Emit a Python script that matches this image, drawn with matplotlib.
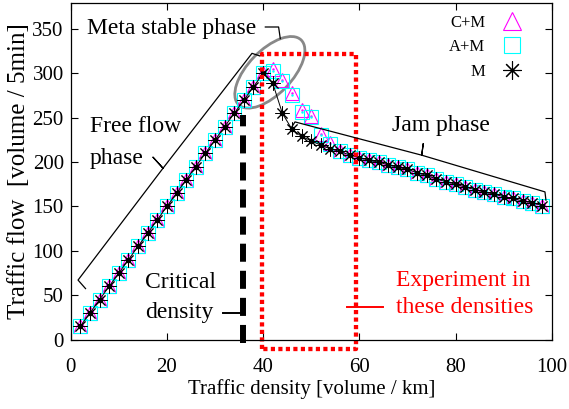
import matplotlib
matplotlib.use('Agg')
import matplotlib.pyplot as plt
from matplotlib.lines import Line2D
from matplotlib.patches import Ellipse
import matplotlib.transforms as mtransforms

plt.rcParams['font.family'] = ['Liberation Serif', 'DejaVu Serif']
plt.rcParams['lines.scale_dashes'] = False

# data
density = [2, 4, 6, 8, 10, 12, 14, 16, 18, 20, 22, 24, 26, 28, 30, 32, 34, 36, 38, 40,
           42, 44, 46, 48, 50, 52, 54, 56, 58, 60, 62, 64, 66, 68, 70, 72, 74, 76, 78, 80,
           82, 84, 86, 88, 90, 92, 94, 96, 98]
flow_m = [15, 30, 45, 60, 75, 90, 105, 120, 135, 150, 165, 180, 195, 210, 225, 240, 255, 270, 285, 300,
          289, 255, 237, 229, 224, 219, 215, 212, 208, 205, 202, 200, 197, 194, 192, 188, 185, 181, 178, 175,
          172, 169, 166, 164, 161, 159, 156, 154, 151]
flow_cm = [15, 30, 45, 60, 75, 90, 105, 120, 135, 150, 165, 180, 195, 210, 225, 240, 255, 270, 285, 300,
           305, 293, 278, 259, 252, 232, 221, 213, 208, 205, 202, 200, 197, 194, 192, 188, 185, 181, 178, 175,
           172, 169, 166, 164, 161, 159, 156, 154, 151]
flow_am = [15, 30, 45, 60, 75, 90, 105, 120, 135, 150, 165, 180, 195, 210, 225, 240, 255, 270, 285, 300,
           303, 291, 276, 257, 251, 230, 220, 212, 208, 205, 202, 200, 197, 194, 192, 188, 185, 181, 178, 175,
           172, 169, 166, 164, 161, 159, 156, 154, 151]

critical_density = 35.8
exp_lo, exp_hi = 39.8, 59.3

fig = plt.figure(figsize=(5.69, 4.09), dpi=100)
ax = fig.add_axes([0.1243, 0.1699, 0.8453, 0.822])

# series
ax.plot(density, flow_cm, linestyle='none', marker='^', ms=9.5, mfc='none', mec='#ff00ff', mew=0.8)
ax.plot(density, flow_cm, linestyle='none', marker='.', ms=1.5, color='#ff00ff')
ax.plot(density, flow_am, linestyle='none', marker='s', ms=9.5, mfc='none', mec='#00ffff', mew=0.8)
ax.plot(density, flow_am, linestyle='none', marker='.', ms=1.5, color='#00ffff')
ax.plot(density, flow_m, color='black', lw=0.7, marker=(8, 2, 0), ms=10, mew=0.7)
ax.plot(density, flow_m, linestyle='none', marker='o', ms=3, color='black')

# critical density line
ax.plot([critical_density, critical_density], [-4.3, 253], color='black', lw=4.3,
        dashes=(13, 6.5), solid_capstyle='butt', dash_capstyle='butt', clip_on=False)

# experiment box
ax.plot([exp_lo, exp_lo, exp_hi, exp_hi, exp_lo], [-10.7, 322.3, 322.3, -10.7, -10.7],
        color='red', lw=3.1, dashes=(3, 2.4), dash_capstyle='butt', clip_on=False)

# meta stable ellipse
tr = fig.dpi_scale_trans + mtransforms.ScaledTranslation(41.4, 301.2, ax.transData)
ax.add_patch(Ellipse((0, 0), 0.9, 0.44, angle=46, transform=tr, fill=False,
                     edgecolor='#888888', lw=2))

# brackets
ax.plot([3.08, 1.52, 19.19, 17.11, 19.19, 37.69, 39.25],
        [57.4, 67.0, 193.1, 205.5, 193.1, 322.6, 319.8], color='black', lw=0.9)
ax.plot([45.95, 46.63, 72.97, 73.3, 72.97, 98.6, 98.8],
        [239.6, 245.3, 207.8, 220.9, 207.8, 166.4, 157.1], color='black', lw=0.9)
ax.plot([40.46, 43.22, 43.57], [352.3, 352.3, 339.2], color='black', lw=0.9)
ax.plot([31.73, 35.2], [29.5, 29.5], color='black', lw=1.4)
ax.plot([57.4, 64.9], [37.0, 37.0], color='red', lw=1.4, clip_on=False)

# annotations
ax.text(3.4, 344.8, 'Meta stable phase', fontsize=17, va='baseline')
ax.text(4.0, 234, 'Free flow', fontsize=17, va='baseline')
ax.text(4.0, 198.4, 'phase', fontsize=17, va='baseline')
ax.text(66.7, 235.1, 'Jam phase', fontsize=17, va='baseline')
ax.text(15.4, 57.6, 'Critical', fontsize=17, va='baseline')
ax.text(15.4, 24.6, 'density', fontsize=17, va='baseline')
ax.text(81.5, 60.2, 'Experiment in', fontsize=17, va='baseline', ha='center', color='red')
ax.text(81.9, 30.1, 'these densities', fontsize=17, va='baseline', ha='center', color='red')

ax.set_xlim(0, 100)
ax.set_ylim(0, 379)
ax.set_xticks([0, 20, 40, 60, 80, 100])
ax.set_yticks([0, 50, 100, 150, 200, 250, 300, 350])
ax.tick_params(direction='in', length=5, width=0.8, top=True, right=True, labelsize=15)
ax.tick_params(axis='x', pad=13)
ax.tick_params(axis='y', pad=5)
for s in ax.spines.values():
    s.set_linewidth(0.9)

ax.set_xlabel('Traffic density [volume / km]', fontsize=15, labelpad=2)
ax.set_ylabel('Traffic flow  [volume / 5min]', fontsize=18, labelpad=2)

handles = [
    Line2D([], [], linestyle='none', marker='^', ms=13, mfc='none', mec='#ff00ff', mew=0.8),
    Line2D([], [], linestyle='none', marker='s', ms=12, mfc='none', mec='#00ffff', mew=0.8),
    Line2D([], [], linestyle='none', marker=(8, 2, 0), ms=13, color='black', mew=0.8),
]
ax.legend(handles, ['C+M', 'A+M', 'M'], loc='upper right', markerfirst=False, frameon=False,
          fontsize=12, handlelength=1.2, handletextpad=1.0, labelspacing=0.5,
          borderaxespad=0.3, bbox_to_anchor=(0.962, 1.0))

fig.savefig('out.png', dpi=100)
